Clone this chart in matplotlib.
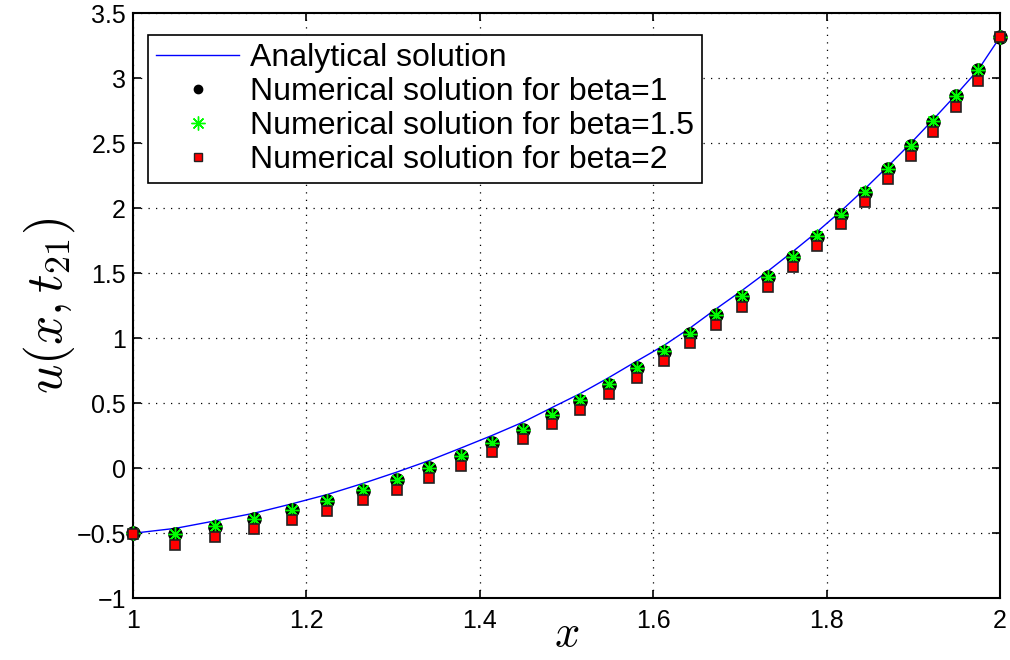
import numpy as np
import matplotlib.pyplot as plt
from matplotlib.lines import Line2D

# grid nodes
x = [1.000, 1.049, 1.095, 1.140, 1.183, 1.224, 1.265, 1.304, 1.342, 1.378,
     1.414, 1.450, 1.483, 1.516, 1.549, 1.581, 1.613, 1.643, 1.673, 1.702,
     1.732, 1.761, 1.789, 1.817, 1.844, 1.871, 1.897, 1.923, 1.949, 1.975, 2.000]

u_exact = [-0.500, -0.462, -0.404, -0.345, -0.274, -0.202, -0.117, -0.030, 0.060, 0.155,
           0.252, 0.355, 0.466, 0.575, 0.698, 0.824, 0.947, 1.081, 1.228, 1.365,
           1.514, 1.666, 1.818, 1.980, 2.148, 2.324, 2.499, 2.682, 2.870, 3.065, 3.315]

u_beta1 = [-0.500, -0.508, -0.449, -0.390, -0.321, -0.252, -0.172, -0.090, 0.000, 0.095,
           0.192, 0.295, 0.408, 0.520, 0.643, 0.769, 0.897, 1.031, 1.180, 1.320,
           1.472, 1.626, 1.782, 1.948, 2.120, 2.300, 2.479, 2.667, 2.860, 3.060, 3.315]

u_beta15 = [-0.500, -0.506, -0.447, -0.388, -0.319, -0.250, -0.170, -0.088, 0.002, 0.097,
            0.194, 0.297, 0.410, 0.522, 0.645, 0.771, 0.899, 1.033, 1.182, 1.322,
            1.474, 1.628, 1.784, 1.950, 2.122, 2.302, 2.481, 2.669, 2.862, 3.062, 3.315]

u_beta2 = [-0.505, -0.590, -0.531, -0.469, -0.397, -0.326, -0.246, -0.165, -0.072, 0.020,
           0.123, 0.228, 0.338, 0.448, 0.569, 0.697, 0.825, 0.962, 1.105, 1.243,
           1.397, 1.551, 1.710, 1.879, 2.046, 2.223, 2.405, 2.590, 2.780, 2.980, 3.315]

labels = ['Analytical solution', 'Numerical solution for beta=1',
          'Numerical solution for beta=1.5', 'Numerical solution for beta=2']

plt.rcParams['font.family'] = ['Liberation Sans', 'DejaVu Sans']
plt.rcParams['mathtext.fontset'] = 'cm'

fig = plt.figure(figsize=(10.1, 6.6), dpi=100)
ax = fig.add_axes([0.1317, 0.0935, 0.8583, 0.8865])

green = (0, 1, 0)
ax.plot(x, u_exact, color='blue', lw=1.0)
ax.plot(x, u_beta1, ls='none', marker='o', ms=9.5, mfc='black', mec='black', clip_on=False, zorder=3)
ax.plot(x, u_beta15, ls='none', marker=(8, 2, 0), ms=10, mec=green, mew=1.0, clip_on=False, zorder=3)
ax.plot(x, u_beta2, ls='none', marker='s', ms=7.5, mfc='red', mec='#222222', mew=1.2,
        clip_on=False, zorder=3)

ax.set_xlim(1, 2)
ax.set_ylim(-1, 3.5)
ax.set_xticks([1, 1.2, 1.4, 1.6, 1.8, 2])
ax.set_xticklabels(['1', '1.2', '1.4', '1.6', '1.8', '2'])
ax.set_yticks(np.arange(-1, 3.51, 0.5))
ax.set_yticklabels(['\u22121', '\u22120.5', '0', '0.5', '1', '1.5', '2', '2.5', '3', '3.5'])
ax.tick_params(direction='in', top=True, right=True, labelsize=18, length=6, width=1.2)
ax.tick_params(axis='x', pad=8)
ax.tick_params(axis='y', pad=5)
ax.grid(True, ls=(0, (1, 5)), color='black', lw=0.9)
for s in ax.spines.values():
    s.set_linewidth(1.5)

ax.set_xlabel('$x$', fontsize=32, labelpad=-14)
ax.set_ylabel('$u(x,t_{21})$', fontsize=37, labelpad=0)

# legend proxies so the markers can have their own sizes
handles = [
    Line2D([], [], color='blue', lw=1.0),
    Line2D([], [], ls='none', marker='o', ms=6, mfc='black', mec='black'),
    Line2D([], [], ls='none', marker=(8, 2, 0), ms=10, mec=green, mew=1.0),
    Line2D([], [], ls='none', marker='s', ms=6, mfc='red', mec='#222222', mew=1.0),
]
leg = ax.legend(handles, labels, loc='upper left',
                bbox_to_anchor=(15 / 867, 1 - 22 / 585), borderaxespad=0,
                fontsize=23, frameon=True, fancybox=False,
                edgecolor='black', framealpha=1,
                handlelength=2.6, handletextpad=0.35, borderpad=0.25, labelspacing=0.12)
leg.get_frame().set_linewidth(1.2)
leg.set_zorder(5)

fig.savefig('out.png', dpi=100)
